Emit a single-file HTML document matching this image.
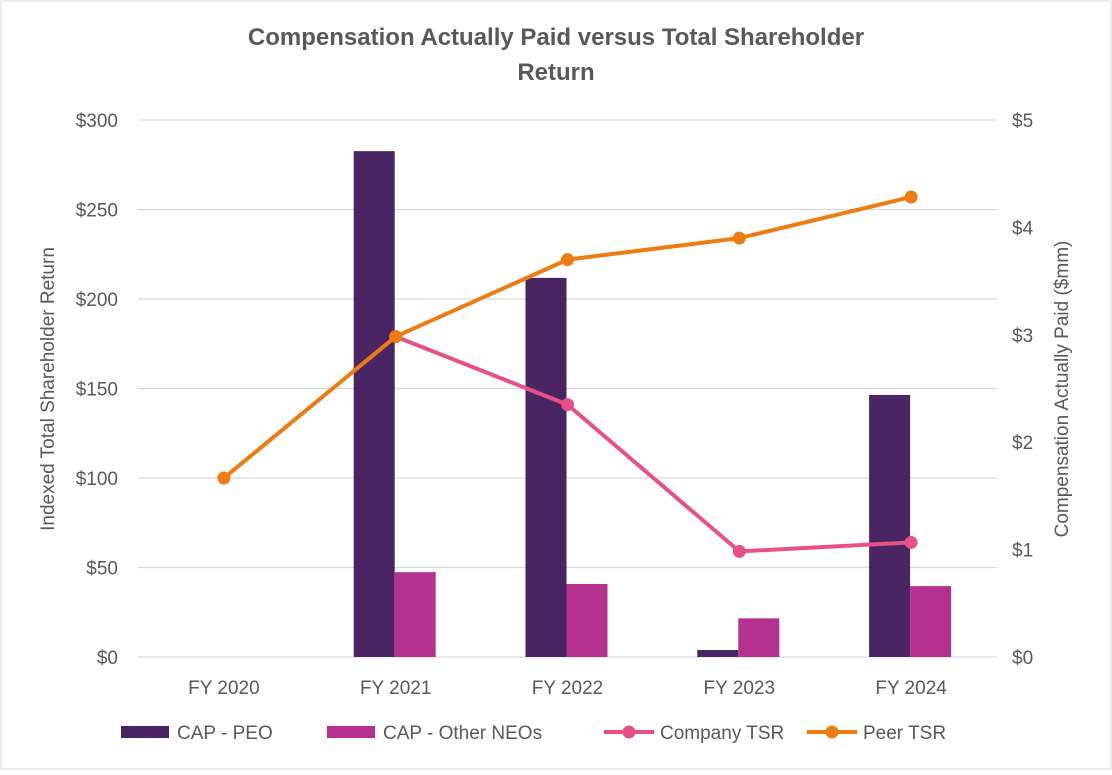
<!DOCTYPE html>
<html><head><meta charset="utf-8"><style>
body{margin:0;background:#fff;font-family:"Liberation Sans",sans-serif;}
#wrap{position:relative;width:1112px;height:770px;}
</style></head><body>
<div id="wrap">
<svg id="chart" width="1112" height="770" xmlns="http://www.w3.org/2000/svg"></svg>
</div>
<script>
const categories=["FY 2020","FY 2021","FY 2022","FY 2023","FY 2024"];
const capPEO=[null,4.71,3.53,0.065,2.44];
const capOther=[null,0.79,0.68,0.36,0.66];
const companyTSR=[null,179,141,59,64];
const peerTSR=[100,179,222,234,257];
const leftTicks=[0,50,100,150,200,250,300];
const leftLabels=["$0","$50","$100","$150","$200","$250","$300"];
const rightTicks=[0,1,2,3,4,5];
const rightLabels=["$0","$1","$2","$3","$4","$5"];

const svg=document.getElementById('chart');
const NS="http://www.w3.org/2000/svg";
function mk(tag,attrs,parent){const e=document.createElementNS(NS,tag);for(const k in attrs)e.setAttribute(k,attrs[k]);(parent||svg).appendChild(e);return e;}
const x0=138,x1=997,yTop=120,yBot=657;
const step=(x1-x0)/categories.length;
const xc=i=>x0+step*(i+0.5);
const yL=v=>yBot-(v/300)*(yBot-yTop);
const yR=v=>yBot-(v/5)*(yBot-yTop);

let e=mk('rect',{x:1,y:1,width:1110,height:768,fill:'#fff',stroke:'#d9d9d9'});

e=mk('text',{x:556,y:45,'text-anchor':'middle','font-size':24,'font-weight':'bold',fill:'#595959'});e.textContent='Compensation Actually Paid versus Total Shareholder';

e=mk('text',{x:556,y:80,'text-anchor':'middle','font-size':24,'font-weight':'bold',fill:'#595959'});e.textContent='Return';


leftTicks.forEach((t,i)=>{
 const g=mk('line',{x1:x0,x2:x1,y1:yL(t),y2:yL(t),stroke:'#d9d9d9','stroke-width':1.3});
 
 const l=mk('text',{x:118,y:yL(t)+7,'text-anchor':'end','font-size':19,fill:'#595959'});l.textContent=leftLabels[i];
 
});
rightTicks.forEach((t,i)=>{
 const l=mk('text',{x:1012,y:yR(t)+7,'text-anchor':'start','font-size':19,fill:'#595959'});l.textContent=rightLabels[i];
 
});
categories.forEach((c,i)=>{
 const l=mk('text',{x:xc(i),y:694,'text-anchor':'middle','font-size':19,fill:'#595959'});l.textContent=c;
 
});
e=mk('text',{x:0,y:0,transform:'translate(54,389) rotate(-90)','text-anchor':'middle','font-size':19,fill:'#595959'});e.textContent='Indexed Total Shareholder Return';

e=mk('text',{x:0,y:0,transform:'translate(1068,389) rotate(-90)','text-anchor':'middle','font-size':19,fill:'#595959'});e.textContent='Compensation Actually Paid ($mm)';


const bw=41;
categories.forEach((c,i)=>{
 if(capPEO[i]!=null){const b=mk('rect',{x:xc(i)-bw-1,y:yR(capPEO[i]),width:bw,height:yBot-yR(capPEO[i]),fill:'#4a2563'});
  }
 if(capOther[i]!=null){const b=mk('rect',{x:xc(i)-1,y:yR(capOther[i]),width:bw,height:yBot-yR(capOther[i]),fill:'#b5318f'});
  }
});
function line(vals,color,name){
 const pts=[];vals.forEach((v,i)=>{if(v!=null)pts.push([xc(i),yL(v)]);});
 const p=mk('polyline',{points:pts.map(q=>q.join(',')).join(' '),fill:'none',stroke:color,'stroke-width':4,'stroke-linejoin':'round'});
 
 pts.forEach(q=>{const c=mk('circle',{cx:q[0],cy:q[1],r:6.5,fill:color});
  });
}
line(companyTSR,'#e8508a','company-tsr');
line(peerTSR,'#ee7d11','peer-tsr');

const leg=[["rect",'#4a2563','CAP - PEO',121],["rect",'#b5318f','CAP - Other NEOs',327],["line",'#e8508a','Company TSR',604],["line",'#ee7d11','Peer TSR',807]];
leg.forEach(L=>{
 const g=mk('g',{});
 if(L[0]==='rect')mk('rect',{x:L[3],y:726,width:48,height:12,fill:L[1]},g);
 else{mk('line',{x1:L[3],x2:L[3]+50,y1:732,y2:732,stroke:L[1],'stroke-width':4},g);mk('circle',{cx:L[3]+25,cy:732,r:6.5,fill:L[1]},g);}
 const t=mk('text',{x:L[3]+56,y:739,'font-size':19,fill:'#595959'},g);t.textContent=L[2];
});
</script>
</body></html>
